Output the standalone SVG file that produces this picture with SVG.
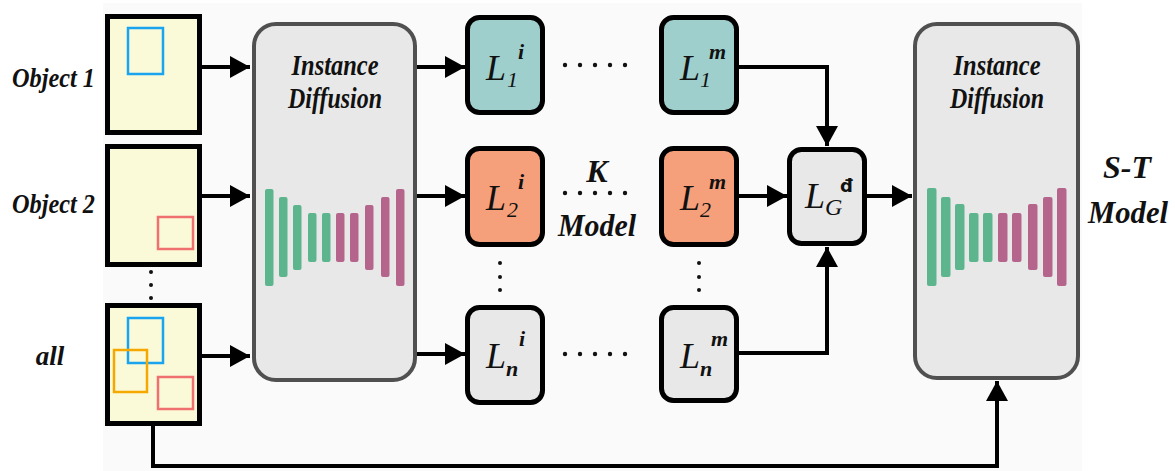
<svg xmlns="http://www.w3.org/2000/svg" width="1175" height="471" viewBox="0 0 1175 471">
<defs>
<marker id="ah" viewBox="0 0 20 22" refX="20" refY="11" markerWidth="20" markerHeight="22" markerUnits="userSpaceOnUse" orient="auto">
<path d="M0,0 L20,11 L0,22 z" fill="#000"/>
</marker>
<style>
.t{font-style:italic;font-weight:bold;fill:#111}
.li{font-style:italic;fill:#111;font-size:36px}
.sb{font-size:22px}
.bd{font-weight:bold}
.img{fill:#fbfad8;stroke:#000;stroke-width:5}
.inner{fill:none;stroke-width:2.5}
.id{fill:#e8e8e8;stroke:#505050;stroke-width:4}
.lb{stroke:#000;stroke-width:5}
.teal{fill:#9ecfcc}
.org{fill:#f5a07a}
.gry{fill:#e8e8e8}
.con{fill:none;stroke:#000;stroke-width:4}
.g{fill:#5db58d}
.p{fill:#b5658b}
.dot{fill:#111}
</style>
</defs>
<rect x="0" y="0" width="1175" height="471" fill="#fff"/>
<rect x="103" y="3" width="979" height="468" fill="#fafafa"/>

<g id="connectors">
<path class="con" d="M202,67 H250" marker-end="url(#ah)"/>
<path class="con" d="M202,196 H250" marker-end="url(#ah)"/>
<path class="con" d="M202,356 H250" marker-end="url(#ah)"/>
<path class="con" d="M417,67 H465" marker-end="url(#ah)"/>
<path class="con" d="M417,196 H465" marker-end="url(#ah)"/>
<path class="con" d="M417,354 H465" marker-end="url(#ah)"/>
<path class="con" d="M739,67 H827 V146" marker-end="url(#ah)"/>
<path class="con" d="M739,196 H787" marker-end="url(#ah)"/>
<path class="con" d="M739,353 H827 V247" marker-end="url(#ah)"/>
<path class="con" d="M867,196 H912" marker-end="url(#ah)"/>
<path class="con" d="M153,426 V466 H997 V381" marker-end="url(#ah)"/>
</g>

<g font-family="Liberation Serif, serif">
<g id="object1">
<rect class="img" x="107.5" y="16.5" width="92" height="116"/>
<rect class="inner" x="128" y="28" width="35" height="46" stroke="#1aa3ee"/>
<text class="t" x="12" y="87" font-size="27" textLength="83" lengthAdjust="spacingAndGlyphs">Object 1</text>
</g>
<g id="object2">
<rect class="img" x="107.5" y="146.5" width="92" height="118"/>
<rect class="inner" x="158" y="217" width="35" height="32" stroke="#f07070"/>
<text class="t" x="12" y="213" font-size="27" textLength="83" lengthAdjust="spacingAndGlyphs">Object 2</text>
</g>
<g id="dots-left">
<circle class="dot" cx="151" cy="272" r="2"/>
<circle class="dot" cx="151" cy="285" r="2"/>
<circle class="dot" cx="151" cy="298" r="2"/>
</g>
<g id="all">
<rect class="img" x="107.5" y="305.5" width="92" height="118"/>
<rect class="inner" x="128" y="318" width="35" height="45" stroke="#1aa3ee"/>
<rect class="inner" x="114" y="350" width="33" height="42" stroke="#f5a800"/>
<rect class="inner" x="158" y="377" width="35" height="32" stroke="#f07070"/>
<text class="t" x="50" y="365" font-size="27" text-anchor="middle">all</text>
</g>

<g id="instance-diffusion-1">
<rect class="id" x="254" y="24" width="161" height="356" rx="22"/>
<text class="t" x="335" y="75" font-size="30" text-anchor="middle" textLength="87" lengthAdjust="spacingAndGlyphs">Instance</text>
<text class="t" x="335" y="108" font-size="30" text-anchor="middle" textLength="94" lengthAdjust="spacingAndGlyphs">Diffusion</text>
<rect class="g" x="265" y="189" width="8.5" height="97" rx="2"/>
<rect class="g" x="279" y="197" width="8.5" height="80" rx="2"/>
<rect class="g" x="293" y="205" width="8.5" height="65" rx="2"/>
<rect class="g" x="308" y="213" width="8.5" height="49" rx="2"/>
<rect class="g" x="322" y="213" width="8.5" height="49" rx="2"/>
<rect class="p" x="336" y="213" width="8.5" height="49" rx="2"/>
<rect class="p" x="350" y="213" width="8.5" height="49" rx="2"/>
<rect class="p" x="365" y="205" width="8.5" height="65" rx="2"/>
<rect class="p" x="381" y="197" width="8.5" height="80" rx="2"/>
<rect class="p" x="396" y="189" width="8.5" height="97" rx="2"/>
</g>

<g id="L1i">
<rect class="lb teal" x="467.5" y="17.5" width="75" height="95" rx="12"/>
<text class="li"><tspan x="486" y="80">L</tspan><tspan class="sb" x="507" y="87">1</tspan><tspan class="sb bd" x="518" y="59">i</tspan></text>
</g>
<g id="L2i">
<rect class="lb org" x="467.5" y="148.5" width="75" height="96" rx="12"/>
<text class="li"><tspan x="486" y="210">L</tspan><tspan class="sb" x="507" y="217">2</tspan><tspan class="sb bd" x="518" y="189">i</tspan></text>
</g>
<g id="Lni">
<rect class="lb gry" x="467.5" y="307.5" width="75" height="95" rx="12"/>
<text class="li"><tspan x="486" y="368">L</tspan><tspan class="sb bd" x="506" y="376">n</tspan><tspan class="sb bd" x="519" y="346">i</tspan></text>
</g>

<g id="dots-mid">
<circle class="dot" cx="565" cy="65" r="2.2"/><circle class="dot" cx="580" cy="65" r="2.2"/><circle class="dot" cx="595" cy="65" r="2.2"/><circle class="dot" cx="610" cy="65" r="2.2"/><circle class="dot" cx="625" cy="65" r="2.2"/>
<circle class="dot" cx="565" cy="193" r="2.2"/><circle class="dot" cx="580" cy="193" r="2.2"/><circle class="dot" cx="595" cy="193" r="2.2"/><circle class="dot" cx="610" cy="193" r="2.2"/><circle class="dot" cx="625" cy="193" r="2.2"/>
<circle class="dot" cx="565" cy="354" r="2.2"/><circle class="dot" cx="580" cy="354" r="2.2"/><circle class="dot" cx="595" cy="354" r="2.2"/><circle class="dot" cx="610" cy="354" r="2.2"/><circle class="dot" cx="625" cy="354" r="2.2"/>
<circle class="dot" cx="500" cy="263" r="2"/><circle class="dot" cx="500" cy="277" r="2"/><circle class="dot" cx="500" cy="290" r="2"/>
<circle class="dot" cx="699" cy="263" r="2"/><circle class="dot" cx="699" cy="277" r="2"/><circle class="dot" cx="699" cy="290" r="2"/>
</g>
<g id="k-model">
<text class="t" x="597" y="182" font-size="32" text-anchor="middle">K</text>
<text class="t" x="597" y="236" font-size="31" text-anchor="middle" textLength="78" lengthAdjust="spacingAndGlyphs">Model</text>
</g>

<g id="L1m">
<rect class="lb teal" x="661.5" y="17.5" width="75" height="95" rx="12"/>
<text class="li"><tspan x="680" y="80">L</tspan><tspan class="sb" x="700" y="87">1</tspan><tspan class="sb bd" x="709" y="59">m</tspan></text>
</g>
<g id="L2m">
<rect class="lb org" x="661.5" y="148.5" width="75" height="96" rx="12"/>
<text class="li"><tspan x="680" y="210">L</tspan><tspan class="sb" x="700" y="217">2</tspan><tspan class="sb bd" x="709" y="189">m</tspan></text>
</g>
<g id="Lnm">
<rect class="lb gry" x="661.5" y="307.5" width="75" height="93" rx="12"/>
<text class="li"><tspan x="680" y="368">L</tspan><tspan class="sb bd" x="700" y="376">n</tspan><tspan class="sb bd" x="711" y="346">m</tspan></text>
</g>

<g id="LG">
<rect class="lb gry" x="789.5" y="149.5" width="75" height="94" rx="12"/>
<text class="li"><tspan x="805" y="208">L</tspan><tspan x="825" y="215" font-size="24">G</tspan><tspan x="840" y="192" font-family="DejaVu Sans, sans-serif" font-style="normal" font-weight="bold" font-size="18">đ</tspan></text>
</g>

<g id="instance-diffusion-2">
<rect class="id" x="915" y="24" width="163" height="354" rx="22"/>
<text class="t" x="997" y="75" font-size="30" text-anchor="middle" textLength="87" lengthAdjust="spacingAndGlyphs">Instance</text>
<text class="t" x="997" y="108" font-size="30" text-anchor="middle" textLength="94" lengthAdjust="spacingAndGlyphs">Diffusion</text>
<rect class="g" x="927" y="188" width="9.5" height="98" rx="2"/>
<rect class="g" x="941" y="197" width="9.5" height="80" rx="2"/>
<rect class="g" x="955" y="204" width="9.5" height="66" rx="2"/>
<rect class="g" x="969" y="213" width="9.5" height="49" rx="2"/>
<rect class="g" x="983" y="213" width="9.5" height="49" rx="2"/>
<rect class="p" x="998" y="213" width="9.5" height="49" rx="2"/>
<rect class="p" x="1012" y="213" width="9.5" height="49" rx="2"/>
<rect class="p" x="1028" y="204" width="9.5" height="66" rx="2"/>
<rect class="p" x="1043" y="197" width="9.5" height="80" rx="2"/>
<rect class="p" x="1057" y="188" width="9.5" height="98" rx="2"/>
</g>

<g id="st-model">
<text class="t" x="1127" y="178" font-size="32" text-anchor="middle">S-T</text>
<text class="t" x="1128" y="223" font-size="31" text-anchor="middle" textLength="80" lengthAdjust="spacingAndGlyphs">Model</text>
</g>
</g>
</svg>
